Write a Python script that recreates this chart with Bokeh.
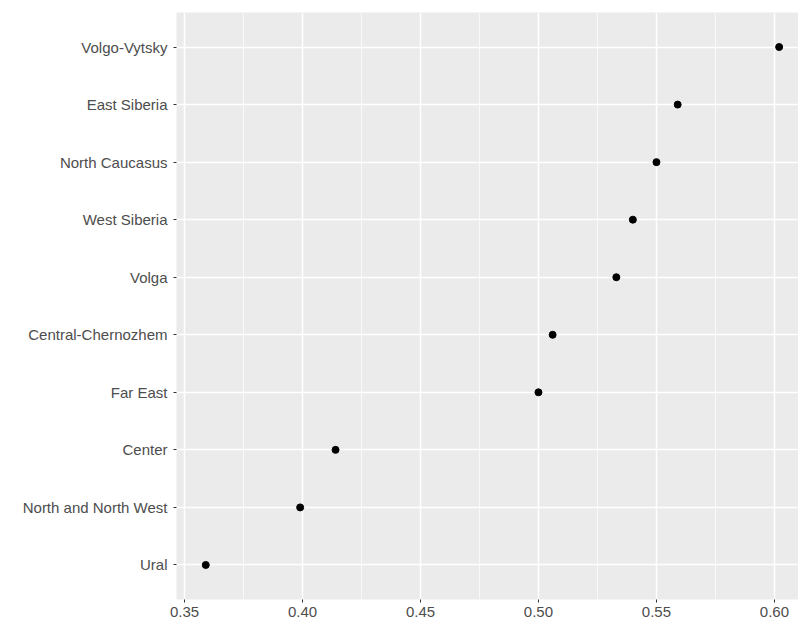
from bokeh.plotting import figure
from bokeh.models import FactorRange, Range1d, FixedTicker, ColumnDataSource
from bokeh.embed import file_html
from bokeh.resources import INLINE

regions = ["Ural", "North and North West", "Center", "Far East", "Central-Chernozhem",
           "Volga", "West Siberia", "North Caucasus", "East Siberia", "Volgo-Vytsky"]
values = [0.359, 0.399, 0.414, 0.500, 0.506, 0.533, 0.540, 0.550, 0.559, 0.602]
x_ticks = [0.35, 0.40, 0.45, 0.50, 0.55, 0.60]
x_minor = [0.325, 0.375, 0.425, 0.475, 0.525, 0.575, 0.625]

src = ColumnDataSource(dict(region=regions, value=values))

p = figure(width=798, height=619, output_backend="svg", toolbar_location=None,
           y_range=FactorRange(factors=regions, range_padding=0.1, range_padding_units="absolute"),
           x_range=Range1d(0.3466, 0.6102),
           min_border_left=176, min_border_right=0, min_border_top=12, min_border_bottom=0)

p.background_fill_color = "#EBEBEB"
p.border_fill_color = "white"
p.outline_line_color = None

p.scatter("value", "region", source=src, size=7, color="black")

p.xaxis.ticker = FixedTicker(ticks=x_ticks, minor_ticks=x_minor)
p.xaxis.major_label_overrides = {t: f"{t:.2f}" for t in x_ticks}

for ax in (p.xaxis[0], p.yaxis[0]):
    ax.axis_line_color = None
    ax.major_tick_line_color = "#333333"
    ax.major_tick_in = 0
    ax.major_tick_out = 3
    ax.minor_tick_line_color = None
    ax.major_label_text_color = "#4D4D4D"
    ax.major_label_text_font = "Liberation Sans"
    ax.major_label_text_font_size = "15px"

p.yaxis.major_label_standoff = 6
p.xaxis.major_label_standoff = 3

p.xgrid.grid_line_color = "white"
p.xgrid.grid_line_width = 1.5
p.xgrid.minor_grid_line_color = "white"
p.xgrid.minor_grid_line_width = 0.7
p.ygrid.grid_line_color = "white"
p.ygrid.grid_line_width = 1.5

open("out.html", "w").write(file_html(p, INLINE))
